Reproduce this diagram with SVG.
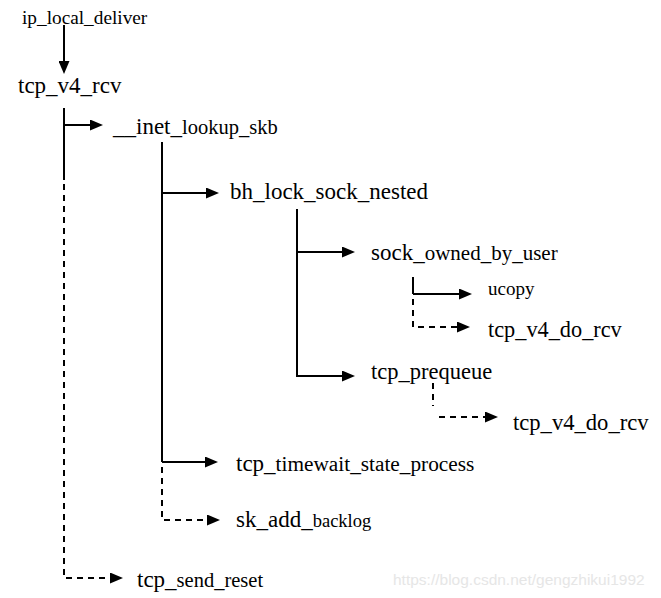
<svg xmlns="http://www.w3.org/2000/svg" width="661" height="598" viewBox="0 0 661 598">
<style>
text{font-family:"Liberation Serif","Times New Roman",serif;fill:#000;}
.b{font-size:23px;}
.s{font-size:20.5px;}
.ln{stroke:#000;stroke-width:2;fill:none;}
.d{stroke-dasharray:6 5;}
.wm{font-family:"Liberation Sans",Arial,sans-serif;font-size:15.5px;fill:#e6e6e6;}
</style>
<defs>
<marker id="ah" markerUnits="userSpaceOnUse" markerWidth="13" markerHeight="11" viewBox="0 0 13 11" refX="0" refY="5.5" orient="auto">
<path d="M0,0 L13,5.5 L0,11 z" fill="#000"/>
</marker>
</defs>
<rect width="661" height="598" fill="#fff"/>
<g id="connectors">
<line class="ln" x1="64" y1="25" x2="64" y2="61" marker-end="url(#ah)"/>
<line class="ln" x1="64" y1="108" x2="64" y2="180"/>
<line class="ln" x1="64" y1="125" x2="90" y2="125" marker-end="url(#ah)"/>
<polyline class="ln d" points="64,184 64,578 110,578" marker-end="url(#ah)"/>
<line class="ln" x1="162" y1="142" x2="162" y2="462"/>
<line class="ln" x1="162" y1="193" x2="206" y2="193" marker-end="url(#ah)"/>
<line class="ln" x1="162" y1="462" x2="205" y2="462" marker-end="url(#ah)"/>
<polyline class="ln d" points="162,467 162,520 207,520" marker-end="url(#ah)"/>
<line class="ln" x1="297" y1="209" x2="297" y2="376"/>
<line class="ln" x1="297" y1="252" x2="342" y2="252" marker-end="url(#ah)"/>
<line class="ln" x1="296" y1="376" x2="342" y2="376" marker-end="url(#ah)"/>
<line class="ln" x1="413" y1="277" x2="413" y2="294"/>
<line class="ln" x1="413" y1="294" x2="459" y2="294" marker-end="url(#ah)"/>
<polyline class="ln d" points="413,299 413,327 457,327" marker-end="url(#ah)"/>
<line class="ln d" x1="433" y1="383" x2="433" y2="406"/>
<line class="ln d" x1="439" y1="417" x2="485" y2="417" marker-end="url(#ah)"/>
</g>
<g id="ip_local_deliver"><text x="22" y="24" style="font-size:19.3px">ip_local_deliver</text></g>
<g id="tcp_v4_rcv"><text class="b" x="18" y="93">tcp_v4_rcv</text></g>
<g id="inet_lookup_skb"><text x="113" y="134"><tspan class="b">__inet_</tspan><tspan class="s">lookup_skb</tspan></text></g>
<g id="bh_lock_sock_nested"><text class="b" x="230" y="199">bh_lock_sock_nested</text></g>
<g id="sock_owned_by_user"><text x="371" y="260"><tspan class="b">sock_</tspan><tspan style="font-size:21px">owned_by_user</tspan></text></g>
<g id="ucopy"><text x="488" y="295" style="font-size:19px">ucopy</text></g>
<g id="tcp_v4_do_rcv_1"><text x="488" y="337" style="font-size:22.3px">tcp_v4_do_rcv</text></g>
<g id="tcp_prequeue"><text x="371" y="379" style="font-size:22.5px">tcp_prequeue</text></g>
<g id="tcp_v4_do_rcv_2"><text x="513" y="430" style="font-size:22.6px">tcp_v4_do_rcv</text></g>
<g id="tcp_timewait_state_process"><text x="236" y="471"><tspan class="b">tcp_</tspan><tspan style="font-size:21.3px">timewait_state_process</tspan></text></g>
<g id="sk_add_backlog"><text x="236" y="527"><tspan class="b">sk_add_</tspan><tspan style="font-size:18.5px">backlog</tspan></text></g>
<g id="tcp_send_reset"><text x="137" y="587"><tspan class="b">tcp_</tspan><tspan style="font-size:20.5px">send_reset</tspan></text></g>
<text class="wm" x="393" y="585">https://blog.csdn.net/gengzhikui1992</text>
</svg>
